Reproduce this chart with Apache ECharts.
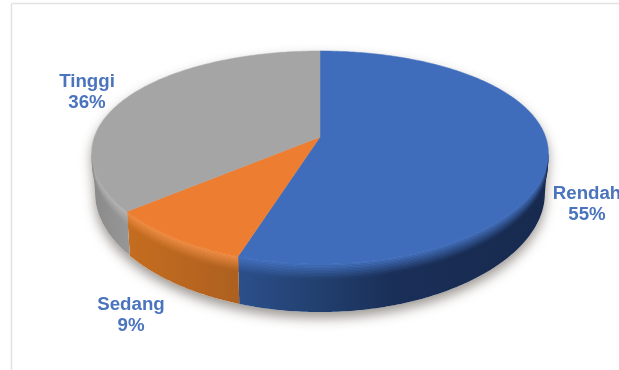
<!DOCTYPE html>
<html>
<head>
<meta charset="utf-8">
<script src="https://cdn.jsdelivr.net/npm/echarts@6/dist/echarts.min.js"></script>
<style>html,body{margin:0;padding:0;background:#fff;overflow:hidden}#chart{width:619px;height:370px}</style>
</head>
<body>
<div id="chart"></div>
<script>
// Share of respondents per category, in percent
const categories = ['Rendah', 'Sedang', 'Tinggi'];
const shares = [55, 9, 36];

// Fill colours per category
const topColors = ['#3f6dbb', '#ed7d31', '#a5a5a5'];
const bevelColors = ['#4472c0', '#f39048', '#b8b8b8'];
const wallStops = [
  [[0, '#2c4f8c'], [0.25, '#22406f'], [0.5, '#1a2f58'], [1, '#172a4e']],
  [[0, '#c56d20'], [1, '#ad601f']],
  [[0, '#8a8a8a'], [1, '#969696']]
];
const labelAnchors = [[587, 204], [131, 315], [87, 92]];

// Perspective disc: centre x, far/centre/near rim in y, half width, wall height
const CX = 320, RX = 225.6, PERSP = -0.1925, SPREAD = 0.8, YA = 76.2, YB = 137, WALL = 38.8;
const FOOT_SCALE = 0.985;
const BEVEL_STEPS = 10, BEVEL_SIZE = 0.032;

function project(deg) {
  const t = deg * Math.PI / 180;
  const v = -Math.cos(t), w = 1 + PERSP * v;
  return { x: CX + RX * Math.sin(t) / Math.pow(w, SPREAD), y: (YA * v + YB) / w, h: WALL / w };
}
// The wall shows between the rim's rightmost and leftmost points
let WALL_FROM = 90;
for (let d = 60; d < 140; d += 0.25) {
  if (project(d).x > project(WALL_FROM).x) WALL_FROM = d;
}
const WALL_TO = 360 - WALL_FROM;

function arc(from, to) {
  const pts = [], n = Math.max(2, Math.ceil((to - from) / 0.75));
  for (let i = 0; i <= n; i++) pts.push(project(from + (to - from) * i / n));
  return pts;
}
function mix(a, b, t) {
  const pa = parseInt(a.slice(1), 16), pb = parseInt(b.slice(1), 16);
  const ch = s => Math.round(((pa >> s) & 255) * (1 - t) + ((pb >> s) & 255) * t);
  return 'rgb(' + ch(16) + ',' + ch(8) + ',' + ch(0) + ')';
}
// Point part way down the wall; the foot of the disc sits slightly narrower
function down(p, off) {
  const s = 1 + (FOOT_SCALE - 1) * off;
  return [CX + (p.x - CX) * s, p.y + p.h * off];
}
function band(pts, off0, off1) {
  const outer = pts.map(p => down(p, off0));
  const inner = pts.slice().reverse().map(p => down(p, off1));
  return outer.concat(inner);
}
function wallFill(idx, x0, x1, bevelT) {
  const stops = wallStops[idx].map(s => ({
    offset: s[0],
    color: bevelT >= 1 ? s[1] : mix(bevelColors[idx], s[1], bevelT)
  }));
  return new echarts.graphic.LinearGradient(x0, 0, x1, 0, stops, true);
}

// Soft cast shadow below the disc
function renderShadow() {
  const pts = arc(WALL_FROM, WALL_TO);
  const poly = pts.map(p => down(p, 1)).concat(arc(WALL_TO, WALL_FROM + 360).map(p => [p.x, p.y]));
  return {
    type: 'polygon',
    shape: { points: poly },
    style: { fill: '#ffffff', shadowColor: 'rgba(60,50,40,0.5)', shadowBlur: 12, shadowOffsetY: 6 }
  };
}

function renderSlice(params, api) {
  const idx = params.dataIndex;
  const start = api.value(1) * 3.6, end = (api.value(1) + api.value(0)) * 3.6;
  const children = [];

  // Top face
  const rim = arc(start, end).map(p => [p.x, p.y]);
  children.push({
    type: 'polygon',
    z2: 5,
    shape: { points: [[CX, YB]].concat(rim) },
    style: { fill: topColors[idx], stroke: topColors[idx], lineWidth: 0.5 }
  });

  // Side wall, limited to the part of the rim facing the viewer
  const from = Math.max(start, WALL_FROM), to = Math.min(end, WALL_TO);
  if (to > from) {
    const pts = arc(from, to);
    const x0 = Math.min(pts[0].x, pts[pts.length - 1].x);
    const x1 = Math.max(pts[0].x, pts[pts.length - 1].x);
    children.push({
      type: 'polygon',
      z2: 1,
      shape: { points: band(pts, 0, 1) },
      style: { fill: wallFill(idx, x0, x1, 1) }
    });
    // Rounded edge between face and wall, fading in over a few strips
    for (let j = 0; j < BEVEL_STEPS; j++) {
      const f = wallFill(idx, x0, x1, (j + 0.5) / BEVEL_STEPS);
      children.push({
        type: 'polygon',
        z2: 2,
        shape: { points: band(pts, j * BEVEL_SIZE, (j + 1) * BEVEL_SIZE) },
        style: { fill: f, stroke: f, lineWidth: 0.4 }
      });
    }
  }

  // Category label with its percentage
  const anchor = labelAnchors[idx];
  children.push({
    type: 'text',
    z2: 10,
    x: anchor[0],
    y: anchor[1],
    style: {
      text: categories[idx] + '\n' + api.value(0) + '%',
      fill: '#4a74bd',
      font: 'bold 18.7px "Liberation Sans", Arial, sans-serif',
      lineHeight: 21,
      align: 'center',
      verticalAlign: 'middle'
    }
  });
  return { type: 'group', children };
}

let running = 0;
const sliceData = categories.map((name, i) => {
  const item = { name, value: [shares[i], running] };
  running += shares[i];
  return item;
});

const chart = echarts.init(document.getElementById('chart'), null, { renderer: 'canvas' });
chart.setOption({
  animation: false,
  backgroundColor: '#ffffff',
  graphic: [
    { type: 'line', shape: { x1: 11.5, y1: 3.5, x2: 619, y2: 3.5 }, style: { stroke: '#e2e2e2', lineWidth: 1.5 } },
    { type: 'line', shape: { x1: 11.5, y1: 3.5, x2: 11.5, y2: 370 }, style: { stroke: '#e2e2e2', lineWidth: 1.5 } }
  ],
  series: [
    { type: 'custom', coordinateSystem: 'none', silent: true, z: 1, renderItem: renderShadow, data: [[0]] },
    { type: 'custom', coordinateSystem: 'none', silent: true, z: 2, renderItem: renderSlice, data: sliceData }
  ]
});
</script>
</body>
</html>
